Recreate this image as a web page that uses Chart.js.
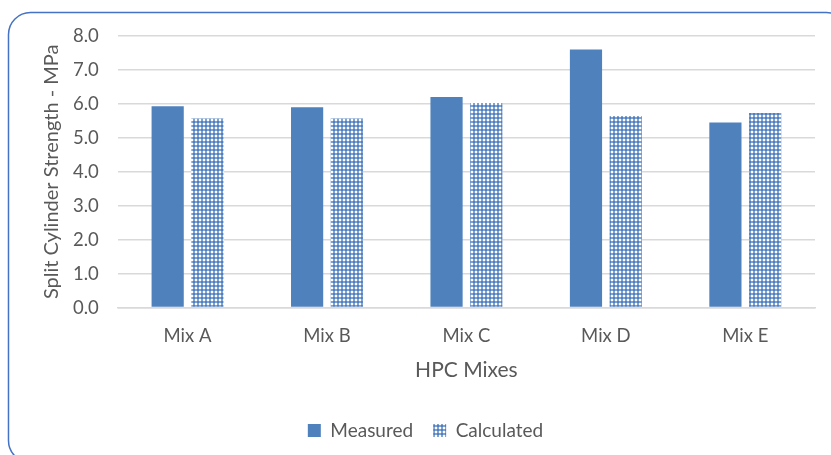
<!DOCTYPE html>
<html><head><meta charset="utf-8">
<script src="https://cdn.jsdelivr.net/npm/chart.js@4/dist/chart.umd.min.js"></script>
<style>html,body{margin:0;padding:0;background:#fff;}#wrap{width:831px;height:455px;position:relative;}</style>
</head><body><div id="wrap"><canvas id="c" width="831" height="455"></canvas></div>
<script>
const categories = ["Mix A", "Mix B", "Mix C", "Mix D", "Mix E"];
const measured = [5.93, 5.90, 6.20, 7.60, 5.45];
const calculated = [5.57, 5.57, 6.03, 5.64, 5.73];
const yTicks = [0, 1, 2, 3, 4, 5, 6, 7, 8];

const BLUE = "#4F81BD";
const FONT = "Lato";
function makePattern() {
  const t = document.createElement("canvas");
  t.width = 4; t.height = 4;
  const g = t.getContext("2d");
  g.fillStyle = "#ffffff"; g.fillRect(0, 0, 4, 4);
  g.fillStyle = BLUE;
  g.fillRect(1, 1, 2, 2);
  g.fillStyle = "#7fa2d3";
  g.fillRect(0, 1, 1, 2); g.fillRect(1, 0, 2, 1); g.fillRect(3, 1, 1, 2); g.fillRect(1, 3, 2, 1);
  return g.createPattern(t, "repeat");
}
const frame = {
  id: "frame",
  afterDraw(chart) {
    const ctx = chart.ctx;
    ctx.save();
    ctx.strokeStyle = "#4472C4";
    ctx.lineWidth = 1.5;
    ctx.beginPath();
    ctx.roundRect(8.5, 12.5, 840, 450, 22);
    ctx.stroke();
    ctx.restore();
  }
};
const pat = makePattern();
new Chart(document.getElementById("c"), {
  type: "bar",
  data: {
    labels: categories,
    datasets: [
      { label: "Measured", data: measured, backgroundColor: BLUE, borderWidth: 0 },
      { label: "Calculated", data: calculated, backgroundColor: pat, borderWidth: 0 }
    ]
  },
  options: {
    responsive: false,
    animation: false,
    devicePixelRatio: 1,
    categoryPercentage: 0.57,
    barPercentage: 0.81,
    layout: { padding: { top: 36, right: 16, left: 36, bottom: 5 } },
    plugins: {
      legend: {
        position: "bottom",
        labels: { font: { family: FONT, size: 19 }, color: "#595959", boxWidth: 13, boxHeight: 13, padding: 20 }
      },
      tooltip: { enabled: false }
    },
    scales: {
      x: {
        grid: { display: false, drawTicks: false },
        border: { color: "#d9d9d9", width: 1.5 },
        ticks: { font: { family: FONT, size: 18.5 }, color: "#595959", padding: 17 },
        title: { display: true, text: "HPC Mixes", font: { family: FONT, size: 21 }, color: "#595959", padding: { top: -6, bottom: 18 } }
      },
      y: {
        min: 0, max: 8,
        afterBuildTicks(axis) { axis.ticks = yTicks.map(v => ({ value: v })); },
        grid: { color: "#d9d9d9", lineWidth: 1.5, drawTicks: false },
        border: { display: false },
        ticks: { font: { family: FONT, size: 18.5 }, color: "#595959", padding: 19, callback: v => Number(v).toFixed(1) },
        title: { display: true, text: "Split Cylinder Strength - MPa", font: { family: FONT, size: 20 }, color: "#595959", padding: { top: 4, bottom: -10 } }
      }
    }
  },
  plugins: [frame]
});
</script></body></html>
